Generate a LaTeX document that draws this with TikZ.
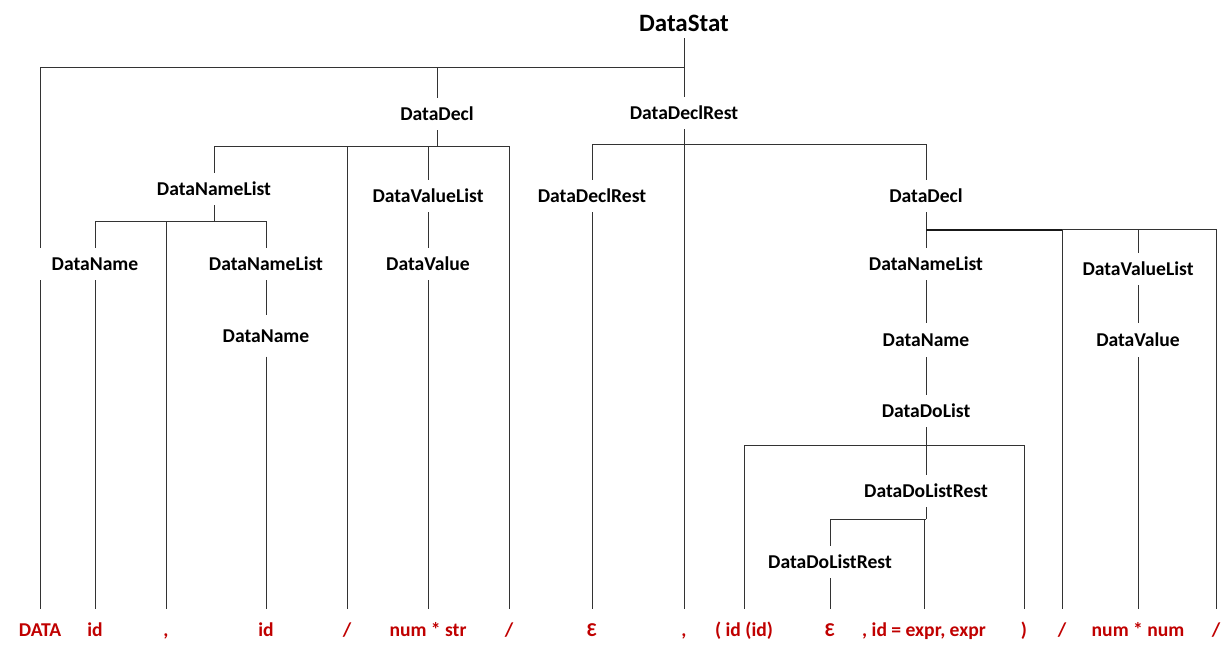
\documentclass[tikz,border=0pt]{standalone}
\usepackage{fontspec}
\setmainfont{Carlito}
\pgfdeclarelayer{bg}
\pgfsetlayers{bg,main}
\definecolor{leafred}{RGB}{192,0,0}
\tikzset{
  nt/.style={font=\fontsize{19.6}{22}\selectfont\bfseries, fill=white, inner xsep=2pt, inner ysep=0pt,
    text height=12.4pt, text depth=0pt, minimum height=32pt},
  leaf/.style={font=\fontsize{19.6}{22}\selectfont\bfseries, text=leafred, inner xsep=1pt, inner ysep=0pt,
    text height=12.4pt, text depth=0pt, minimum height=42pt},
  rootnode/.style={font=\fontsize{25}{28}\selectfont\bfseries, inner sep=0pt,
    text height=15.8pt, text depth=0pt, minimum height=28pt},
  ln/.style={line width=1pt, draw=black!80},
  thk/.style={line width=2pt, draw=black!90}
}
\begin{document}
\begin{tikzpicture}[x=1pt,y=-1pt]
\useasboundingbox (0,0) rectangle (1232,652);
% internal nodes
\node[rootnode] (root) at (684,24) {DataStat};
\node[nt] (dd1) at (437,114) {DataDecl};
\node[nt] (ddr1) at (684,113) {DataDeclRest};
\node[nt] (dnl1) at (214,189) {DataNameList};
\node[nt] (dvl1) at (428,196) {DataValueList};
\node[nt, minimum width=118pt] (dn1) at (95,264) {DataName};
\node[nt] (dnl2) at (266,264) {DataNameList};
\node[nt, minimum height=41pt] (dn2) at (266,336) {DataName};
\node[nt] (dv1) at (428,264) {DataValue};
\node[nt] (ddr2) at (592,196) {DataDeclRest};
\node[nt] (dd2) at (926,196) {DataDecl};
\node[nt] (dnl3) at (926,264) {DataNameList};
\node[nt, minimum height=34pt] (dn3) at (926,340) {DataName};
\node[nt] (ddl) at (926,411) {DataDoList};
\node[nt] (ddlr1) at (926,491) {DataDoListRest};
\node[nt] (ddlr2) at (830,562) {DataDoListRest};
\node[nt] (dvl2) at (1138,269) {DataValueList};
\node[nt, minimum height=34pt] (dv2) at (1138,340) {DataValue};
% leaves
\node[leaf] (l1) at (40,630) {DATA};
\node[leaf] (l2) at (95,630) {id};
\node[leaf] (l3) at (166,630) {,};
\node[leaf] (l4) at (266,630) {id};
\node[leaf] (l5) at (347,630) {/};
\node[leaf] (l6) at (428,630) {num * str};
\node[leaf] (l7) at (509,630) {/};
\node[leaf] (l8) at (592,630) {Ɛ};
\node[leaf] (l9) at (684,630) {,};
\node[leaf] (l10) at (744,630) {( id (id)};
\node[leaf] (l11) at (830,630) {Ɛ};
\node[leaf] (l12) at (924,630) {, id = expr, expr};
\node[leaf] (l13) at (1024,630) {)};
\node[leaf] (l14) at (1062,630) {/};
\node[leaf] (l15) at (1138,630) {num * num};
\node[leaf] (l16) at (1216,630) {/};
% bar coordinates
\coordinate (b0) at (684,68);
\coordinate (b1) at (437,147);
\coordinate (b2) at (214,222);
\coordinate (b3) at (684,145);
\coordinate (b4) at (926,230);
\coordinate (b5) at (926,445);
\coordinate (b6) at (926,519);
\begin{pgfonlayer}{bg}
% DataStat
\draw[ln] (root.south) -- (ddr1.north);
\draw[ln] (l1.north) -- (l1.north |- b0) -- (b0);
\draw[ln] (dd1.north) -- (dd1.north |- b0);
% DataDecl (left)
\draw[ln] (dd1.south) -- (b1);
\draw[ln] (dnl1.north) -- (dnl1.north |- b1) -- (l7.north |- b1) -- (l7.north);
\draw[ln] (l5.north) -- (l5.north |- b1);
\draw[ln] (dvl1.north) -- (dvl1.north |- b1);
% DataNameList (left)
\draw[ln] (dnl1.south) -- (b2);
\draw[ln] (dn1.north) -- (dn1.north |- b2) -- (dnl2.north |- b2) -- (dnl2.north);
\draw[ln] (l3.north) -- (l3.north |- b2);
\draw[ln] (dn1.south) -- (l2.north);
\draw[ln] (dnl2.south) -- (dn2.north);
\draw[ln] (dn2.south) -- (l4.north);
\draw[ln] (dvl1.south) -- (dv1.north);
\draw[ln] (dv1.south) -- (l6.north);
% DataDeclRest (top)
\draw[ln] (ddr2.north) -- (ddr2.north |- b3) -- (dd2.north |- b3) -- (dd2.north);
\draw[ln] (ddr1.south) -- (l9.north);
\draw[ln] (ddr2.south) -- (l8.north);
% DataDecl (right)
\draw[ln] (dd2.south) -- (dnl3.north);
\draw[thk] (b4) -- (l14.north |- b4);
\draw[ln] (l14.north |- b4) -- (l16.north |- b4) -- (l16.north);
\draw[ln] (l14.north) -- (l14.north |- b4);
\draw[ln] (dvl2.north) -- (dvl2.north |- b4);
\draw[ln] (dnl3.south) -- (dn3.north);
\draw[ln] (dn3.south) -- (ddl.north);
% DataDoList
\draw[ln] (ddl.south) -- (ddlr1.north);
\draw[ln] (l10.north) -- (l10.north |- b5) -- (l13.north |- b5) -- (l13.north);
% DataDoListRest
\draw[ln] (ddlr1.south) -- (b6);
\draw[ln] (ddlr2.north) -- (ddlr2.north |- b6) -- (b6);
\draw[ln] (l12.north) -- (l12.north |- b6);
\draw[ln] (ddlr2.south) -- (l11.north);
% DataValueList (right)
\draw[ln] (dvl2.south) -- (dv2.north);
\draw[ln] (dv2.south) -- (l15.north);
\end{pgfonlayer}
\end{tikzpicture}
\end{document}
